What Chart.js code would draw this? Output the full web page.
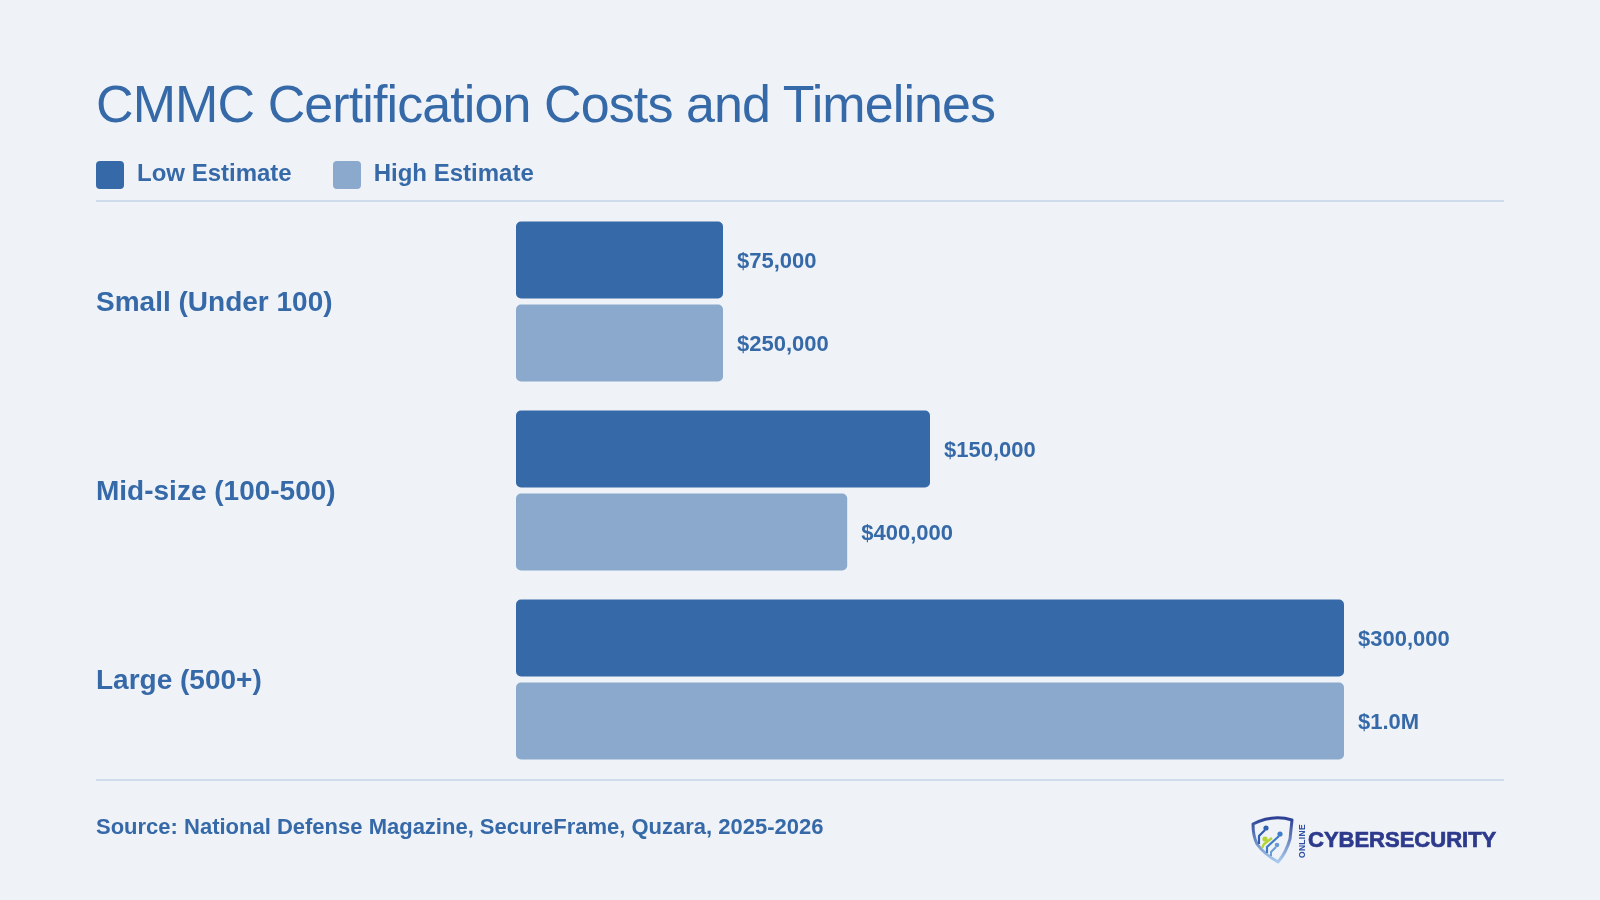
<!DOCTYPE html>
<html>
<head>
<meta charset="utf-8">
<title>CMMC Certification Costs and Timelines</title>
<script src="https://cdn.jsdelivr.net/npm/chart.js@4.4.1/dist/chart.umd.min.js"></script>
<style>
  html, body { margin: 0; padding: 0; background: #eff3f8; }
  body {
    width: 1600px; height: 900px; position: relative; overflow: hidden;
    font-family: "Liberation Sans", Arial, Helvetica, sans-serif; color: #3669a8;
  }
  #chart { position: absolute; left: 0; top: 0; }
  .title {
    position: absolute; left: 96px; top: 78px; font-size: 52px; line-height: 1;
    letter-spacing: -0.9px; font-weight: normal; white-space: nowrap;
  }
  .legend { position: absolute; left: 96px; top: 161px; display: flex; height: 28px; align-items: center; }
  .legend .item { display: flex; align-items: center; margin-right: 41px; }
  .legend .box { width: 28px; height: 28px; border-radius: 4px; margin-right: 13px; }
  .legend .label { font-size: 24px; font-weight: bold; line-height: 1; white-space: nowrap; position: relative; top: -2px; }
  .rule { position: absolute; left: 96px; width: 1408px; height: 2px; background: #cddbea; }
  .source {
    position: absolute; left: 96px; top: 816px; font-size: 22px; line-height: 1;
    font-weight: bold; white-space: nowrap;
  }
  .logo { position: absolute; left: 1245px; top: 812px; }
</style>
</head>
<body>
<canvas id="chart" width="1600" height="900"></canvas>
<div class="title">CMMC Certification Costs and Timelines</div>
<div class="legend" id="legend"></div>
<div class="rule" style="top:200px"></div>
<div class="rule" style="top:779px"></div>
<div class="source">Source: National Defense Magazine, SecureFrame, Quzara, 2025-2026</div>
<svg class="logo" width="260" height="56" viewBox="0 0 260 56">
  <defs>
    <linearGradient id="shieldGrad" x1="0" y1="0" x2="0" y2="1">
      <stop offset="0" stop-color="#2c3f94"/>
      <stop offset="1" stop-color="#a9cbee"/>
    </linearGradient>
  </defs>
  <path d="M8,12 Q28,2 47,8 L45,27 Q41,41 33,50 Q19,42 12,32 Q8,24 8,12 Z"
        fill="none" stroke="url(#shieldGrad)" stroke-width="3" stroke-linejoin="round"/>
  <path d="M14,32 L14,24 L20,18" fill="none" stroke="#2f5fb0" stroke-width="2.2"/>
  <circle cx="21" cy="16" r="2.6" fill="#2f5fb0"/>
  <path d="M17,36 L19,32 L27,26" fill="none" stroke="#b5d334" stroke-width="2.4"/>
  <circle cx="20" cy="27" r="2.6" fill="#b5d334"/>
  <path d="M22,41 L22,35 L34,24" fill="none" stroke="#3f7cc8" stroke-width="2.2"/>
  <circle cx="35" cy="22" r="2.6" fill="#3f7cc8"/>
  <path d="M26,44 L26,40 L31,35" fill="none" stroke="#6b9bd6" stroke-width="2"/>
  <circle cx="32" cy="33" r="2.3" fill="#6b9bd6"/>
  <text x="0" y="0" transform="translate(60,46) rotate(-90)" font-family="Liberation Sans, Arial, sans-serif"
        font-size="8.5" font-weight="bold" fill="#3050a8" letter-spacing="0.3">ONLINE</text>
  <text x="63" y="35" font-family="Liberation Sans, Arial, sans-serif" font-size="22" font-weight="bold"
        fill="#2d3a8c" stroke="#2d3a8c" stroke-width="0.7">CYBERSECURITY</text>
</svg>
<script>
  // chart data
  const categories = ['Small (Under 100)', 'Mid-size (100-500)', 'Large (500+)'];
  const seriesNames = ['Low Estimate', 'High Estimate'];
  const lowEstimate = [75000, 150000, 300000];
  const highEstimate = [250000, 400000, 1000000];

  const lowColor = '#3669a8';
  const highColor = '#8aa9cc';
  const textColor = '#3669a8';

  // legend in html
  const legendEl = document.getElementById('legend');
  [lowColor, highColor].forEach((color, i) => {
    const item = document.createElement('div');
    item.className = 'item';
    item.innerHTML = '<div class="box" style="background:' + color + '"></div><div class="label">' + seriesNames[i] + '</div>';
    legendEl.appendChild(item);
  });

  function formatMoney(v) {
    if (v >= 1000000) return '$' + (v / 1000000).toFixed(1) + 'M';
    return '$' + v.toLocaleString('en-US');
  }

  // writes the value at the end of each bar
  const valueLabels = {
    id: 'valueLabels',
    afterDatasetsDraw(chart) {
      const ctx = chart.ctx;
      ctx.save();
      ctx.font = 'bold 22px "Liberation Sans", Arial, sans-serif';
      ctx.fillStyle = textColor;
      ctx.textAlign = 'left';
      ctx.textBaseline = 'middle';
      chart.data.datasets.forEach((ds, i) => {
        chart.getDatasetMeta(i).data.forEach((bar, j) => {
          ctx.fillText(formatMoney(ds.data[j]), bar.x + 14, bar.y + 2);
        });
      });
      ctx.restore();
    }
  };

  const ctx = document.getElementById('chart').getContext('2d');

  const chart = new Chart(ctx, {
    type: 'bar',
    data: {
      labels: categories,
      datasets: [
        {
          label: seriesNames[0],
          data: lowEstimate,
          xAxisID: 'xLow',
          backgroundColor: lowColor,
          borderRadius: 5,
          borderSkipped: false,
          categoryPercentage: 0.88,
          barPercentage: 0.925,
        },
        {
          label: seriesNames[1],
          data: highEstimate,
          xAxisID: 'xHigh',
          backgroundColor: highColor,
          borderRadius: 5,
          borderSkipped: false,
          categoryPercentage: 0.88,
          barPercentage: 0.925,
        },
      ],
    },
    options: {
      indexAxis: 'y',
      responsive: false,
      animation: false,
      devicePixelRatio: 1,
      layout: {
        padding: { left: 96, right: 256, top: 207, bottom: 126 },
      },
      plugins: {
        legend: { display: false },
        title: { display: false },
        tooltip: { enabled: false },
      },
      scales: {
        // each series is scaled against its own maximum
        xLow: { type: 'linear', position: 'bottom', min: 0, max: 300000, display: false },
        xHigh: { type: 'linear', position: 'top', min: 0, max: 1000000, display: false },
        y: {
          type: 'category',
          grid: { display: false },
          border: { display: false },
          ticks: {
            crossAlign: 'far',
            padding: 0,
            labelOffset: 2,
            color: textColor,
            font: { family: '"Liberation Sans", Arial, sans-serif', size: 28, weight: 'bold' },
          },
          afterFit(scale) {
            scale.width = 420;
          },
        },
      },
    },
    plugins: [valueLabels],
  });
</script>
</body>
</html>
